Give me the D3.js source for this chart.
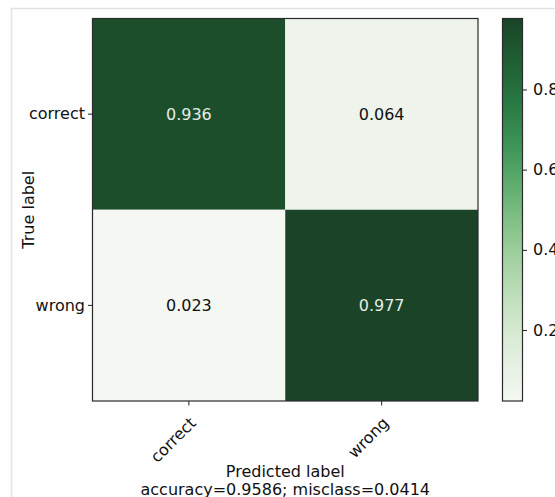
<!DOCTYPE html>
<html>
<head>
<meta charset="utf-8">
<script src="https://cdn.jsdelivr.net/npm/d3@7"></script>
<style>
  html, body { margin: 0; padding: 0; background: #ffffff; }
  svg { display: block; font-family: "DejaVu Sans", sans-serif; }
</style>
</head>
<body>
<svg id="chart" width="555" height="497"></svg>
<script>
// Normalised confusion matrix (rows: true label, columns: predicted label)
const classes = ["correct", "wrong"];
const rowCorrect = [0.936, 0.064];
const rowWrong = [0.023, 0.977];
const colorbarTicks = [0.2, 0.4, 0.6, 0.8];
const accuracy = 0.9586;
const misclass = 0.0414;

// muted sequential green palette, light to dark
const greenStops = ["#f4f7f2", "#e3efdf", "#c6e2c2", "#a2d19f", "#78bb7e",
                    "#479f60", "#2b7f47", "#1f6334", "#1a4327"];
const greens = d3.interpolateRgbBasis(greenStops);

const matrix = [rowCorrect, rowWrong];
const cells = [];
matrix.forEach((row, i) => row.forEach((v, j) => cells.push({ t: classes[i], p: classes[j], v })));

const allVals = cells.map(d => d.v);
const vmin = d3.min(allVals), vmax = d3.max(allVals);
const thresh = vmax / 1.5;

const svg = d3.select("#chart");

// card frame
svg.append("rect")
  .attr("x", 11.5).attr("y", 8.5)
  .attr("width", 560).attr("height", 500)
  .attr("fill", "#fefefe")
  .attr("stroke", "#e3e3e3").attr("stroke-width", 1.5);

const plot = { left: 92.5, right: 478, top: 18.5, bottom: 401 };

const x = d3.scaleBand().domain(classes).range([plot.left, plot.right]);
const y = d3.scaleBand().domain(classes).range([plot.top, plot.bottom]);
const color = d3.scaleSequential(greens).domain([vmin, vmax]);

// heatmap cells
svg.append("g").selectAll("rect").data(cells).join("rect")
  .attr("x", d => x(d.p)).attr("y", d => y(d.t))
  .attr("width", x.bandwidth()).attr("height", y.bandwidth())
  .attr("fill", d => color(d.v));

// cell annotations
svg.append("g").selectAll("text").data(cells).join("text")
  .attr("x", d => x(d.p) + x.bandwidth() / 2)
  .attr("y", d => y(d.t) + y.bandwidth() / 2)
  .attr("dy", "0.36em")
  .attr("text-anchor", "middle")
  .attr("font-size", 16)
  .attr("fill", d => d.v > thresh ? "#e4ede4" : "#111111")
  .text(d => d.v.toFixed(3));

// axes frame
svg.append("rect")
  .attr("x", plot.left).attr("y", plot.top)
  .attr("width", plot.right - plot.left).attr("height", plot.bottom - plot.top)
  .attr("fill", "none").attr("stroke", "#2b2b2b").attr("stroke-width", 1.2);

// y axis
const yAxis = svg.append("g")
  .attr("transform", `translate(${plot.left},0)`)
  .call(d3.axisLeft(y).tickSize(4.5).tickPadding(3));
yAxis.select(".domain").remove();
yAxis.selectAll("text").attr("font-size", 16).attr("fill", "#111").attr("font-family", "DejaVu Sans, sans-serif");
yAxis.selectAll("line").attr("stroke", "#222");

// x axis
const xAxis = svg.append("g")
  .attr("transform", `translate(0,${plot.bottom})`)
  .call(d3.axisBottom(x).tickSize(4.5));
xAxis.select(".domain").remove();
xAxis.selectAll("line").attr("stroke", "#222");
xAxis.selectAll("text")
  .attr("font-size", 16).attr("fill", "#111").attr("font-family", "DejaVu Sans, sans-serif")
  .attr("text-anchor", "end")
  .attr("x", 0).attr("y", 0).attr("dy", null)
  .attr("transform", "translate(8,23) rotate(-45)");

// axis titles
svg.append("text")
  .attr("transform", `translate(34,${(plot.top + plot.bottom) / 2}) rotate(-90)`)
  .attr("text-anchor", "middle")
  .attr("font-size", 16).attr("fill", "#111")
  .text("True label");

svg.append("text")
  .attr("x", (plot.left + plot.right) / 2).attr("y", 476.5)
  .attr("text-anchor", "middle")
  .attr("font-size", 16).attr("fill", "#111")
  .text("Predicted label");

svg.append("text")
  .attr("x", (plot.left + plot.right) / 2).attr("y", 494.5)
  .attr("text-anchor", "middle")
  .attr("font-size", 16).attr("fill", "#111")
  .text(`accuracy=${accuracy.toFixed(4)}; misclass=${misclass.toFixed(4)}`);

// colour bar
const cb = { left: 502.5, width: 20 };
const cbScale = d3.scaleLinear().domain([vmin, vmax]).range([plot.bottom, plot.top]);

const defs = svg.append("defs");
const grad = defs.append("linearGradient")
  .attr("id", "cbGrad").attr("x1", 0).attr("y1", 1).attr("x2", 0).attr("y2", 0);
d3.range(0, 1.0001, 0.05).forEach(t => {
  grad.append("stop").attr("offset", t).attr("stop-color", greens(t));
});

svg.append("rect")
  .attr("x", cb.left).attr("y", plot.top)
  .attr("width", cb.width).attr("height", plot.bottom - plot.top)
  .attr("fill", "url(#cbGrad)")
  .attr("stroke", "#2b2b2b").attr("stroke-width", 1.2);

const cbAxis = svg.append("g")
  .attr("transform", `translate(${cb.left + cb.width},0)`)
  .call(d3.axisRight(cbScale).tickValues(colorbarTicks).tickSize(4.5).tickPadding(6).tickFormat(d3.format(".1f")));
cbAxis.select(".domain").remove();
cbAxis.selectAll("line").attr("stroke", "#222");
cbAxis.selectAll("text").attr("font-size", 16).attr("fill", "#111").attr("font-family", "DejaVu Sans, sans-serif");
</script>
</body>
</html>
